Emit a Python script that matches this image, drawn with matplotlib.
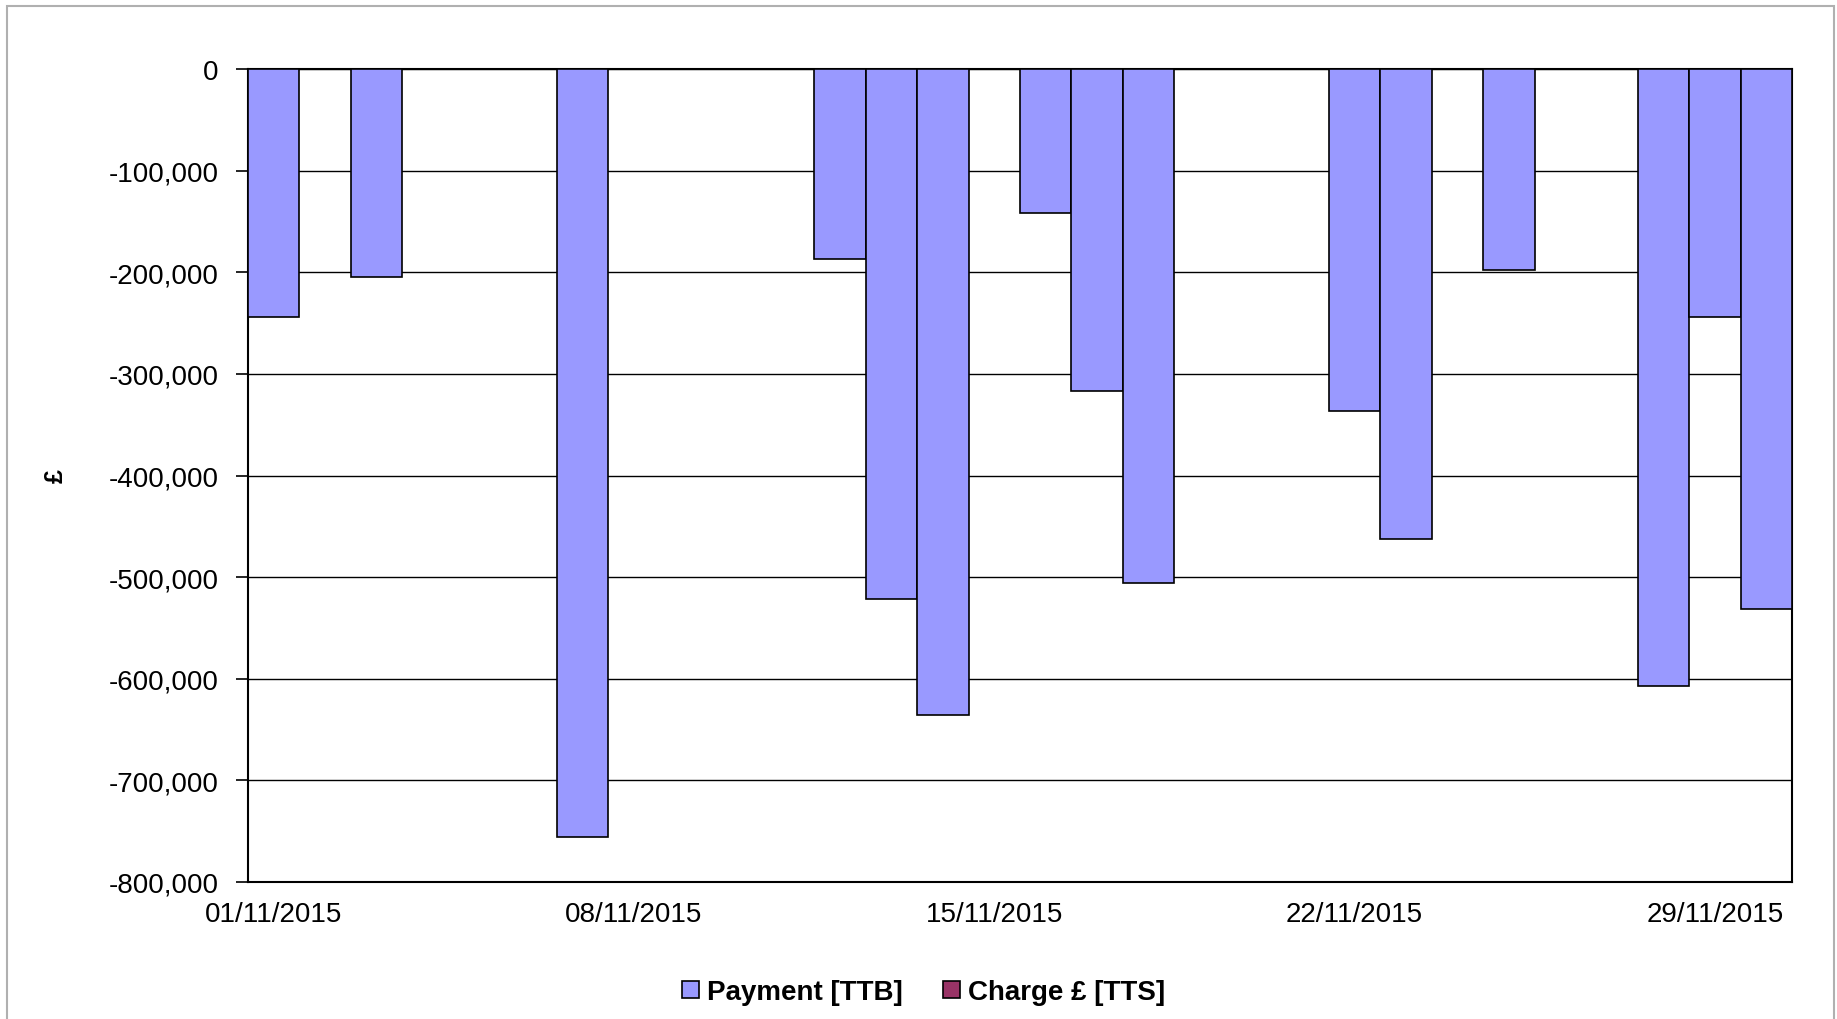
import matplotlib
matplotlib.use("Agg")
import matplotlib.pyplot as plt
from matplotlib.patches import Rectangle, Patch
from matplotlib.ticker import FuncFormatter

days = list(range(1, 31))
payment = [-244000, 0, -205000, 0, 0, 0, -756000, 0, 0, 0, 0, -187000, -522000, -636000, 0,
           -142000, -317000, -506000, 0, 0, 0, -337000, -462000, 0, -198000, 0, 0, -607000,
           -244000, -531000]
charge = [0] * 30
tick_days = [1, 8, 15, 22, 29]
tick_labels = ["01/11/2015", "08/11/2015", "15/11/2015", "22/11/2015", "29/11/2015"]
y_ticks = [0, -100000, -200000, -300000, -400000, -500000, -600000, -700000, -800000]

plt.rcParams['font.family'] = ['Liberation Sans', 'DejaVu Sans']

W, H = 1837, 1020
fig = plt.figure(figsize=(W / 100, H / 100), dpi=100)
left, right, top, bottom = 248, 1792, 70, 883
ax = fig.add_axes([left / W, 1 - bottom / H, (right - left) / W, (bottom - top) / H])

fig.patches.append(Rectangle((7 / W, -0.05), (1834 - 7) / W, 1 - 7 / H + 0.05,
                             transform=fig.transFigure, fill=False,
                             edgecolor='#b0b0b0', linewidth=1.5))

xs = [d - 1 for d in days]
ax.bar(xs, charge, width=1.0, color='#993366', edgecolor='black', linewidth=1.2, zorder=2)
ax.bar(xs, [p if p != 0 else float('nan') for p in payment], width=1.0, color='#9999ff',
       edgecolor='black', linewidth=1.2, zorder=3)

ax.set_xlim(-0.5, 29.5)
ax.set_ylim(-800000, 0)
ax.set_yticks(y_ticks)
ax.yaxis.set_major_formatter(FuncFormatter(lambda v, p: f"{int(v):,}"))
ax.set_xticks([d - 1 for d in tick_days])
ax.set_xticklabels(tick_labels)
ax.tick_params(axis='y', length=9, width=1.2, labelsize=20, pad=12)
ax.tick_params(axis='x', length=0, labelsize=20, pad=14)
ax.grid(axis='y', color='black', linewidth=1.0, zorder=0)
ax.set_axisbelow(True)
for s in ax.spines.values():
    s.set_linewidth(1.5)
    s.set_color('black')

fig.text(56 / W, 1 - 476 / H, "£", rotation=90, fontsize=18, fontweight='bold',
         ha='center', va='center')

handles = [Patch(facecolor='#9999ff', edgecolor='black', linewidth=1.2),
           Patch(facecolor='#993366', edgecolor='black', linewidth=1.2)]
fig.legend(handles, ["Payment [TTB]", "Charge £ [TTS]"], loc='center',
           bbox_to_anchor=(0.503, 1 - 993 / H), ncol=2, frameon=False,
           prop={'size': 20, 'weight': 'bold'}, handlelength=0.58, handleheight=0.58,
           handletextpad=0.32, columnspacing=1.45)

fig.savefig("out.png", dpi=100)
